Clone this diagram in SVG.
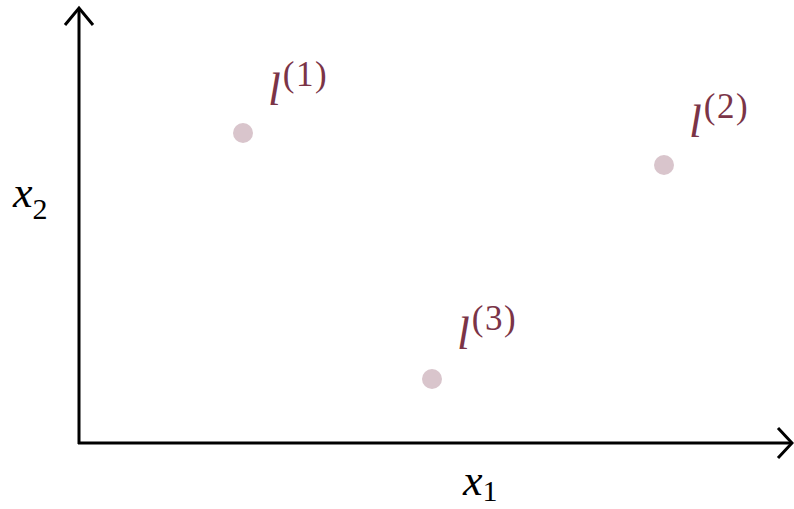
<svg xmlns="http://www.w3.org/2000/svg" width="794" height="509" viewBox="0 0 794 509">
<style>
.ax{stroke:#000;stroke-width:3;fill:none;stroke-linecap:butt}
.pt{fill:#d9c5cc}
.lbl{fill:#7b3447;font-family:"Liberation Serif","DejaVu Serif",serif}
.var{font-style:italic}
.sup{font-size:35px;letter-spacing:1.5px}
.axl{fill:#000;font-family:"Liberation Serif","DejaVu Serif",serif}
</style>
<rect width="794" height="509" fill="#fff"/>
<g id="connectors">
<path class="ax" d="M79,444 L79,8"/>
<path class="ax" d="M65,25 L79,8 L93,25"/>
<path class="ax" d="M78,443 L792,443"/>
<path class="ax" d="M778,428 L792,443 L778,458"/>
</g>
<g id="axis-x2">
<text class="axl" x="13" y="207" font-size="44"><tspan class="var">x</tspan><tspan font-size="30" dy="12">2</tspan></text>
</g>
<g id="axis-x1">
<text class="axl" x="463" y="495" font-size="44"><tspan class="var">x</tspan><tspan font-size="30" dy="6">1</tspan></text>
</g>
<g id="l1">
<circle class="pt" cx="243" cy="133" r="10"/>
<text class="lbl" x="268" y="105" font-size="46"><tspan class="var">l</tspan><tspan class="sup" dx="2" dy="-19">(1)</tspan></text>
</g>
<g id="l2">
<circle class="pt" cx="664" cy="165" r="10"/>
<text class="lbl" x="689" y="137" font-size="46"><tspan class="var">l</tspan><tspan class="sup" dx="2" dy="-19">(2)</tspan></text>
</g>
<g id="l3">
<circle class="pt" cx="432" cy="379" r="10"/>
<text class="lbl" x="457" y="349" font-size="46"><tspan class="var">l</tspan><tspan class="sup" dx="2" dy="-19">(3)</tspan></text>
</g>
</svg>
